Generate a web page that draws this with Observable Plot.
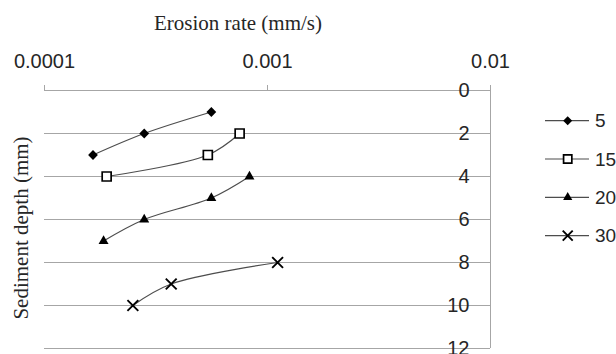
<!DOCTYPE html>
<html><head><meta charset="utf-8">
<script src="https://cdn.jsdelivr.net/npm/d3@7"></script>
<script src="https://cdn.jsdelivr.net/npm/@observablehq/plot@0.6"></script>
<style>body{margin:0;background:#fff} #chart{width:616px;height:354px;overflow:hidden}</style>
</head><body><div id="chart"></div>
<script>
// Data
const seriesNames = ["5", "15", "20", "30"];
const depth5 = [1, 2, 3];
const rate5 = [0.00056, 0.00028, 0.000165];
const depth15 = [2, 3, 4];
const rate15 = [0.00075, 0.00054, 0.00019];
const depth20 = [4, 5, 6, 7];
const rate20 = [0.00083, 0.00056, 0.00028, 0.000184];
const depth30 = [8, 9, 10];
const rate30 = [0.00111, 0.00037, 0.000249];
const xTicks = [0.0001, 0.001, 0.01];
const yTicks = [0, 2, 4, 6, 8, 10, 12];
const xTitle = "Erosion rate (mm/s)";
const yTitle = "Sediment depth (mm)";

const depths = [depth5, depth15, depth20, depth30];
const rates = [rate5, rate15, rate20, rate30];
const rows = seriesNames.flatMap((s, i) => depths[i].map((d, j) => ({series: s, depth: d, rate: rates[i][j]})));

const symbolOf = {"5": "diamond2", "15": "square2", "20": "triangle", "30": "times"};
const styleOf = {
  "5": {fill: "#000", stroke: "none", r: 4.4, strokeWidth: 0},
  "15": {fill: "#fff", stroke: "#000", r: 5.7, strokeWidth: 1.7},
  "20": {fill: "#000", stroke: "none", r: 3.7, strokeWidth: 0},
  "30": {fill: "none", stroke: "#000", r: 5, strokeWidth: 1.9}
};
const grid = "#a6a6a6";
const textColor = "#262626";

const dotMarks = seriesNames.map(s => Plot.dot(rows.filter(d => d.series === s), {
  x: "rate", y: "depth", symbol: () => symbolOf[s], ...styleOf[s]
}));

const chart = Plot.plot({
  width: 616, height: 354,
  marginLeft: 44, marginRight: 126, marginTop: 90, marginBottom: 6,
  style: {fontFamily: "Liberation Sans, Arial, sans-serif", background: "#fff"},
  x: {type: "log", domain: [0.0001, 0.01]},
  y: {domain: [0, 12], reverse: true},
  symbol: {type: "identity"},
  marks: [
    Plot.ruleY(yTicks, {stroke: grid, strokeWidth: 1}),
    Plot.ruleX([0.01], {stroke: grid, strokeWidth: 1}),
    Plot.axisX({anchor: "top", ticks: xTicks, tickFormat: d => String(d), tickSize: 6, tickPadding: 17,
      stroke: grid, fill: textColor, fontSize: 20, label: null}),
    Plot.axisY({anchor: "right", ticks: yTicks, tickSize: 0, tickPadding: 0, dx: -21, textAnchor: "end",
      fill: textColor, fontSize: 20, label: null}),
    Plot.line(rows, {x: "rate", y: "depth", z: "series", curve: "catmull-rom", stroke: "#4d4d4d", strokeWidth: 1.2}),
    ...dotMarks
  ]
});

const svg = d3.select(chart);
svg.append("text").attr("x", 238).attr("y", 30).attr("text-anchor", "middle")
  .attr("font-family", "Liberation Serif, Times New Roman, serif").attr("font-size", 21).attr("fill", textColor)
  .text(xTitle);
svg.append("text").attr("transform", "translate(28,228) rotate(-90)").attr("text-anchor", "middle")
  .attr("font-family", "Liberation Serif, Times New Roman, serif").attr("font-size", 21).attr("fill", textColor)
  .text(yTitle);

// Legend
const symGen = {"5": d3.symbolDiamond2, "15": d3.symbolSquare2, "20": d3.symbolTriangle, "30": d3.symbolTimes};
const lg = svg.append("g");
seriesNames.forEach((s, i) => {
  const y = 120.7 + i * 38.3;
  lg.append("line").attr("x1", 545).attr("x2", 589).attr("y1", y).attr("y2", y).attr("stroke", "#4d4d4d").attr("stroke-width", 1.2);
  const st = styleOf[s];
  lg.append("path").attr("transform", `translate(567.7,${y})`)
    .attr("d", d3.symbol(symGen[s], Math.PI * st.r * st.r * 0.85)())
    .attr("fill", st.fill).attr("stroke", st.stroke).attr("stroke-width", st.strokeWidth);
  lg.append("text").attr("x", 595).attr("y", y).attr("dy", "0.35em").attr("font-size", 19)
    .attr("text-anchor", "start").attr("fill", textColor).text(s);
});

document.getElementById("chart").appendChild(chart);
</script>
</body></html>
